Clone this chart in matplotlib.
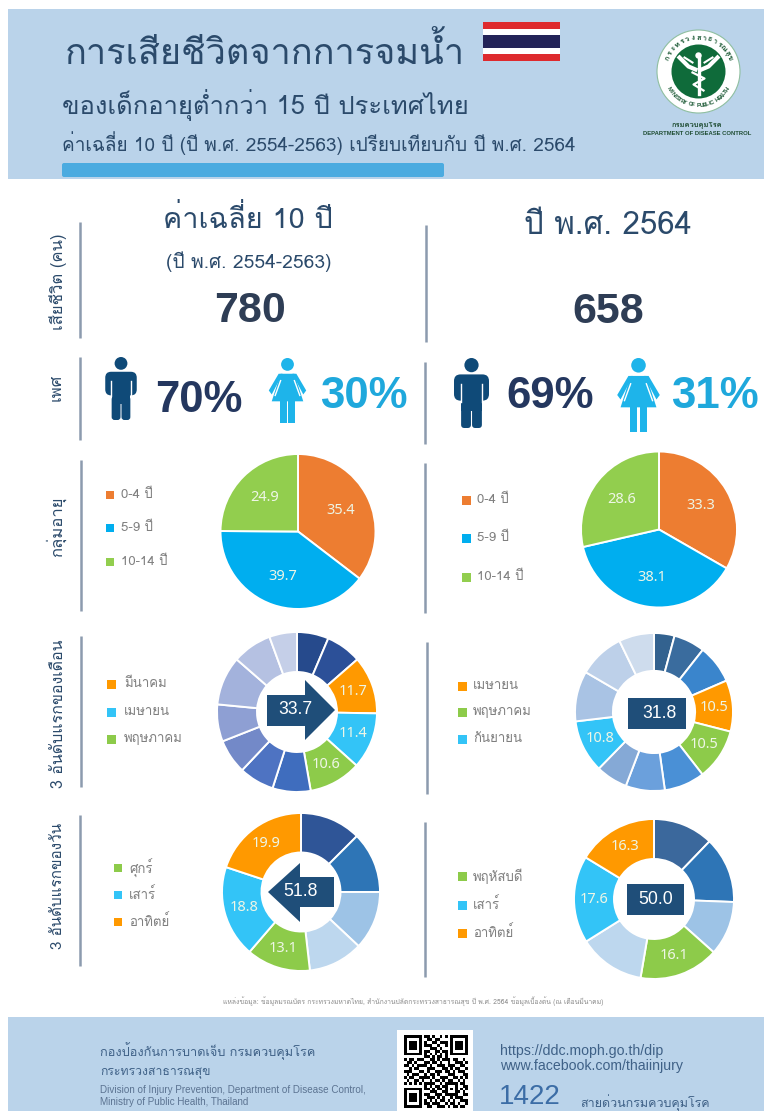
import numpy as np
import matplotlib
matplotlib.use('Agg')
import matplotlib.pyplot as plt
from matplotlib.patches import Rectangle, Circle, Polygon, FancyBboxPatch

W, H = 764, 1111
THAI = ['Loma', 'Noto Sans Thai', 'DejaVu Sans']
ARIAL = ['Liberation Sans', 'DejaVu Sans']
LABEL = ['Noto Sans', 'DejaVu Sans']

# age groups
age_left = [35.4, 39.7, 24.9]
age_right = [33.3, 38.1, 28.6]
age_names = ['0-4 ปี', '5-9 ปี', '10-14 ปี']
age_colors = ['#ED7D31', '#00AEEF', '#92CE4E']

# share by month, january first (clockwise from the top)
month_left = [6.4, 7.2, 11.7, 11.4, 10.6, 7.7, 7.1, 7.0, 7.5, 9.9, 8.0, 5.6]
month_right = [4.2, 6.4, 7.9, 10.5, 10.5, 8.3, 8.0, 6.5, 10.8, 10.3, 9.4, 7.2]
month_left_colors = ['#264A8C', '#2C5098', '#FF9900', '#33C4F7', '#8DCB4A', '#3F6DBE', '#4E73C2',
                     '#7389C8', '#8E9FD3', '#A3B2DC', '#B5C1E2', '#C5CFE8']
month_right_colors = ['#33628F', '#3A6C9E', '#3A85CC', '#FF9900', '#8DCB4A', '#4A90D6', '#6BA0DC',
                      '#85A9D6', '#33C4F7', '#A9C3E4', '#BDD0E9', '#CEDCED']
month_left_shown = {2, 3, 4}
month_right_shown = {3, 4, 8}

# share by weekday, monday first
week_left = [12.5, 12.5, 12.0, 11.2, 13.1, 18.8, 19.9]
week_right = [12.2, 13.4, 11.0, 16.1, 13.4, 17.6, 16.3]
week_left_colors = ['#2F5597', '#2E75B6', '#9DC3E6', '#BDD7EE', '#8DCB4A', '#33C4F7', '#FF9900']
week_right_colors = ['#3B689C', '#2E75B6', '#9DC3E6', '#8DCB4A', '#BDD7EE', '#33C4F7', '#FF9900']
week_left_shown = {4, 5, 6}
week_right_shown = {3, 5, 6}

# legends
month_names_left = ['มีนาคม', 'เมษายน', 'พฤษภาคม']
month_names_right = ['เมษายน', 'พฤษภาคม', 'กันยายน']
day_names_left = ['ศุกร์', 'เสาร์', 'อาทิตย์']
day_names_right = ['พฤหัสบดี', 'เสาร์', 'อาทิตย์']

qr_rows = [
    '1111111011010010101111111',
    '1000001001101100001000001',
    '1011101010011011101011101',
    '1011101011100100101011101',
    '1011101000111010001011101',
    '1000001011001101101000001',
    '1111111010101010101111111',
    '0000000011010110100000000',
    '1011011100110101110110010',
    '0110100011011010010011101',
    '1101011110100111011100110',
    '0010110001110001101011001',
    '1110001101001110110101110',
    '0101110010110100011100011',
    '1011001111010011100110101',
    '0100110100101101011001010',
    '1010101011110010111110110',
    '0000000010101101100010011',
    '1111111011010110101010101',
    '1000001000111001100011010',
    '1011101011001110111110011',
    '1011101001110101001011100',
    '1011101010101011010100111',
    '1000001011011100101101001',
    '1111111001100111010110110',
]

fig = plt.figure(figsize=(W / 100, H / 100), dpi=100, facecolor='white')


def make_axes(x0, y0, x1, y1, **kw):
    return fig.add_axes([x0 / W, 1 - y1 / H, (x1 - x0) / W, (y1 - y0) / H], **kw)


def ring(cx, cy, r, values, colors, shown=None, hole=None):
    a = make_axes(cx - r, cy - r, cx + r, cy + r)
    if shown is None:
        shown = set(range(len(values)))
    labels = [f'{v:.1f}' if i in shown else '' for i, v in enumerate(values)]
    wedge = dict(edgecolor='white', linewidth=1.4)
    dist = 0.62
    if hole:
        wedge['width'] = 1 - hole
        dist = (1 + hole) / 2
    _, texts = a.pie(values, colors=colors, labels=labels, labeldistance=dist, startangle=90,
                     counterclock=False, wedgeprops=wedge)
    for t in texts:
        t.set(ha='center', va='center', color='#EEF6E6', fontsize=10.5, family=LABEL)
    a.set_xlim(-1, 1)
    a.set_ylim(-1, 1)


# page furniture lives on one pixel-scaled layer on top
ax = make_axes(0, 0, W, H)
ax.set_xlim(0, W)
ax.set_ylim(H, 0)
ax.axis('off')
ax.patch.set_alpha(0)
ax.set_zorder(5)

band = '#BAD3EA'
ink = '#2B4A6B'
ax.add_patch(Rectangle((8, 9), W - 8, 170, color=band, lw=0))
ax.add_patch(Rectangle((8, 1017), W - 8, H - 1017, color=band, lw=0))
ax.add_patch(FancyBboxPatch((62, 163), 382, 14, boxstyle='round,pad=0,rounding_size=2', color='#4BABE0', lw=0))

ax.text(65, 52, 'การเสียชีวิตจากการจมน้ำ', family=THAI, fontsize=26, color=ink, va='center')
ax.text(62, 105, 'ของเด็กอายุต่ำกว่า 15 ปี ประเทศไทย', family=THAI, fontsize=18.4, color=ink, va='center')
ax.text(62, 143, 'ค่าเฉลี่ย 10 ปี (ปี พ.ศ. 2554-2563) เปรียบเทียบกับ ปี พ.ศ. 2564', family=THAI,
        fontsize=13.7, color=ink, va='center')

# flag
for y0, y1, c in [(22, 29, '#DE2A2E'), (29, 35, 'white'), (35, 48, '#232358'), (48, 54, 'white'), (54, 61, '#DE2A2E')]:
    ax.add_patch(Rectangle((483, y0), 77, y1 - y0, color=c, lw=0))

# ministry logo
lx, ly = 698.5, 71.5
logo_green = '#0F6B3A'
ax.add_patch(Circle((lx, ly), 41.5, fc='white', ec='#8FBFA0', lw=0.8))
ax.add_patch(Circle((lx, ly), 27, fc=logo_green, lw=0))
ax.plot([lx, lx], [ly - 16, ly + 22], color='white', lw=2.4)
ax.add_patch(Circle((lx, ly - 16), 3.2, color='white', lw=0))
ax.plot([lx - 19, lx - 10, lx - 3], [ly - 14, ly - 5, ly - 2], color='white', lw=3)
ax.plot([lx + 19, lx + 10, lx + 3], [ly - 14, ly - 5, ly - 2], color='white', lw=3)
ax.plot([lx - 14, lx - 6], [ly - 14, ly - 9], color='white', lw=1.5)
ax.plot([lx + 14, lx + 6], [ly - 14, ly - 9], color='white', lw=1.5)
ax.plot([lx - 6, lx + 6, lx - 5, lx + 5], [ly + 1, ly + 7, ly + 13, ly + 19], color='white', lw=1.6)
for ch, ang in zip('MINISTRY OF PUBLIC HEALTH', np.linspace(238, 122, 25)):
    rad = np.deg2rad(ang)
    ax.text(lx + 34 * np.sin(rad), ly - 34 * np.cos(rad), ch, fontsize=4.2, color='#1F5C38', family=ARIAL,
            weight='bold', ha='center', va='center', rotation=180 - ang)
for ch, ang in zip(['ก', 'ร', 'ะ', 'ท', 'ร', 'ว', 'ง', 'ส', 'า', 'ธ', 'า', 'ร', 'ณ', 'สุ', 'ข'],
                   np.linspace(-66, 66, 15)):
    rad = np.deg2rad(ang)
    ax.text(lx + 34 * np.sin(rad), ly - 34 * np.cos(rad), ch, fontsize=5.4, color='#1F5C38', family=THAI,
            weight='bold', ha='center', va='center', rotation=-ang)
ax.text(697, 125, 'กรมควบคุมโรค', family=THAI, fontsize=5.4, color='#1F4D33', weight='bold', ha='center', va='center')
ax.text(697, 133.5, 'DEPARTMENT OF DISEASE CONTROL', family=ARIAL, fontsize=4.2, color='#1F4D33', weight='bold',
        ha='center', va='center')

# column heads
ax.text(248, 219, 'ค่าเฉลี่ย 10 ปี', family=THAI, fontsize=20.8, color=ink, ha='center', va='center')
ax.text(249, 262, '(ปี พ.ศ. 2554-2563)', family=THAI, fontsize=13.8, color=ink, ha='center', va='center')
ax.text(608, 226, 'ปี พ.ศ. 2564', family=THAI, fontsize=22.4, color=ink, ha='center', va='center')
dark_num = '#2E3D55'
ax.text(250, 311, '780', family=ARIAL, weight='bold', fontsize=31, color=dark_num, ha='center', va='center')
ax.text(608, 312, '658', family=ARIAL, weight='bold', fontsize=31, color=dark_num, ha='center', va='center')

# row heads and rules
rows = [('เสียชีวิต (คน)', 58, 282, 12), ('เพศ', 57, 387, 12), ('กลุ่มอายุ', 56, 527, 12),
        ('3 อันดับแรกของเดือน', 59, 714, 11.5), ('3 อันดับแรกของวัน', 58, 886, 11)]
for txt, x, y, size in rows:
    ax.text(x, y, txt, family=THAI, fontsize=size, color=ink, rotation=90, ha='center', va='center')
rule = '#8C9BAE'
for x, y0, y1 in [(80, 222, 338), (80, 357, 440), (81, 460, 611), (81, 636, 787), (80, 815, 966),
                  (426, 225, 342), (425, 362, 444), (425, 463, 613), (427, 642, 794), (425, 822, 977)]:
    ax.plot([x, x], [y0, y1], color=rule, lw=1.8, solid_capstyle='butt')


def man(cx, top, bottom, color):
    k = (bottom - top) / 64
    ax.add_patch(Circle((cx, top + 6.5 * k), 6.5 * k, color=color, lw=0))
    ax.add_patch(FancyBboxPatch((cx - 16 * k, top + 15 * k), 32 * k, 24 * k,
                                boxstyle=f'round,pad=0,rounding_size={6 * k}', color=color, lw=0))
    ax.add_patch(Rectangle((cx - 9.5 * k, top + 20 * k), 19 * k, 28 * k, color=color, lw=0))
    ax.add_patch(FancyBboxPatch((cx - 9.5 * k, top + 40 * k), 9 * k, 24 * k,
                                boxstyle=f'round,pad=0,rounding_size={3 * k}', color=color, lw=0))
    ax.add_patch(FancyBboxPatch((cx + 0.5 * k, top + 40 * k), 9 * k, 24 * k,
                                boxstyle=f'round,pad=0,rounding_size={3 * k}', color=color, lw=0))
    # gap between arms and body
    ax.plot([cx - 10 * k, cx - 10 * k], [top + 24 * k, top + 40 * k], color='white', lw=1)
    ax.plot([cx + 10 * k, cx + 10 * k], [top + 24 * k, top + 40 * k], color='white', lw=1)


def woman(cx, top, bottom, color):
    k = (bottom - top) / 66
    ax.add_patch(Circle((cx, top + 6.5 * k), 6.5 * k, color=color, lw=0))
    ax.add_patch(Polygon([(cx - 7 * k, top + 16 * k), (cx + 7 * k, top + 16 * k), (cx + 16 * k, top + 44 * k),
                          (cx - 16 * k, top + 44 * k)], color=color, lw=0))
    ax.add_patch(Rectangle((cx - 7.5 * k, top + 42 * k), 6.5 * k, 24 * k, color=color, lw=0))
    ax.add_patch(Rectangle((cx + 1 * k, top + 42 * k), 6.5 * k, 24 * k, color=color, lw=0))
    for s in (-1, 1):
        ax.add_patch(Polygon([(cx + s * 5 * k, top + 16 * k), (cx + s * 9 * k, top + 16 * k),
                              (cx + s * 19 * k, top + 33 * k), (cx + s * 16 * k, top + 37 * k)], color=color, lw=0))
        ax.plot([cx + s * 7 * k, cx + s * 12.5 * k], [top + 23 * k, top + 38 * k], color='white', lw=1)


man_col = '#0F4A78'
woman_col = '#1EB4EA'
man(121, 357, 420, man_col)
woman(287.5, 358, 423, woman_col)
man(471.5, 358, 428, man_col)
woman(638.5, 358, 432, woman_col)

pct_dark = '#24375F'
pct_light = '#1FA8DC'
ax.text(199, 400, '70%', family=ARIAL, weight='bold', fontsize=31.5, color=pct_dark, ha='center', va='center')
ax.text(364, 396, '30%', family=ARIAL, weight='bold', fontsize=31.5, color=pct_light, ha='center', va='center')
ax.text(550, 396, '69%', family=ARIAL, weight='bold', fontsize=31.5, color=pct_dark, ha='center', va='center')
ax.text(715, 396, '31%', family=ARIAL, weight='bold', fontsize=31.5, color=pct_light, ha='center', va='center')

# pies and rings
ring(298, 531.5, 77.5, age_left, age_colors)
ring(659, 529.5, 78, age_right, age_colors)
ring(297, 712, 80, month_left, month_left_colors, month_left_shown, hole=0.5)
ring(654, 712, 79, month_right, month_right_colors, month_right_shown, hole=0.52)
ring(301, 892, 79, week_left, week_left_colors, week_left_shown, hole=0.5)
ring(654, 899, 80, week_right, week_right_colors, week_right_shown, hole=0.5)


def key(x_box, x_txt, ys, names, colors, box=9):
    for y, name, c in zip(ys, names, colors):
        ax.add_patch(Rectangle((x_box, y - box / 2), box, box, color=c, lw=0))
        ax.text(x_txt, y, name, family=THAI, fontsize=9.5, color='#7F7F7F', va='center')


key(106, 121, [495, 528, 562], age_names, age_colors, box=8)
key(462, 477, [500, 538, 577], age_names, age_colors)
orange, sky, green = '#FF9900', '#33C4F7', '#8DCB4A'
key(107, 124, [684, 712, 739], month_names_left, [orange, sky, green])
key(458, 473, [686, 712, 739], month_names_right, [orange, green, sky])
key(114, 129, [868, 895, 922], day_names_left, [green, sky, orange], box=8)
key(458, 473, [876, 905, 933], day_names_right, [green, sky, orange])

# centre markers
navy = '#1F4E79'
ax.add_patch(Polygon([(267, 695), (305, 695), (305, 680), (335, 710), (305, 740), (305, 726), (267, 726)], color=navy, lw=0))
ax.add_patch(Polygon([(334, 877), (300, 877), (300, 863), (268, 892), (300, 922), (300, 907), (334, 907)], color=navy, lw=0))
ax.add_patch(Rectangle((628, 698), 58, 31, color=navy, lw=0))
ax.add_patch(Rectangle((627, 884), 57, 31, color=navy, lw=0))
for x, y, s in [(295, 709, '33.7'), (300, 891, '51.8'), (659, 713, '31.8'), (656, 899, '50.0')]:
    ax.text(x, y, s, family=ARIAL, fontsize=12.7, color='white', ha='center', va='center')

# source line
ax.text(413, 1001, 'แหล่งข้อมูล: ข้อมูลมรณบัตร กระทรวงมหาดไทย, สำนักงานปลัดกระทรวงสาธารณสุข ปี พ.ศ. 2564 ข้อมูลเบื้องต้น (ณ เดือนมีนาคม)',
        family=THAI, fontsize=4.9, color='#8A8A8A', ha='center', va='center')

# footer
foot = '#3F6187'
ax.text(100, 1051, 'กองป้องกันการบาดเจ็บ กรมควบคุมโรค', family=THAI, fontsize=9.2, color=foot, va='center')
ax.text(100, 1073, 'กระทรวงสาธารณสุข', family=THAI, fontsize=8.8, color=foot, va='center')
ax.text(100, 1090, 'Division of Injury Prevention, Department of Disease Control,', family=ARIAL, fontsize=7.1,
        color='#5B7391', va='center')
ax.text(100, 1102, 'Ministry of Public Health, Thailand', family=ARIAL, fontsize=7.1, color='#5B7391', va='center')
ax.text(500, 1051, 'https://ddc.moph.go.th/dip', family=ARIAL, fontsize=10.2, color=foot, va='center')
ax.text(500, 1066, 'www.facebook.com/thaiinjury', family=ARIAL, fontsize=10.2, color=foot, va='center')
ax.text(499, 1104, '1422', family=ARIAL, fontsize=20, color='#3C6DA6', va='baseline')
ax.text(580, 1107, 'สายด่วนกรมควบคุมโรค', family=THAI, fontsize=9, color=foot, va='baseline')

ax.add_patch(Rectangle((397, 1030), 76, H - 1030, color='white', lw=0))
qr = make_axes(404, 1035, 467, 1108)
qr.imshow([[1 - int(c) for c in row] for row in qr_rows], cmap='gray', aspect='auto', interpolation='nearest')
qr.axis('off')
qr.set_zorder(6)

fig.savefig('out.png', dpi=100)
